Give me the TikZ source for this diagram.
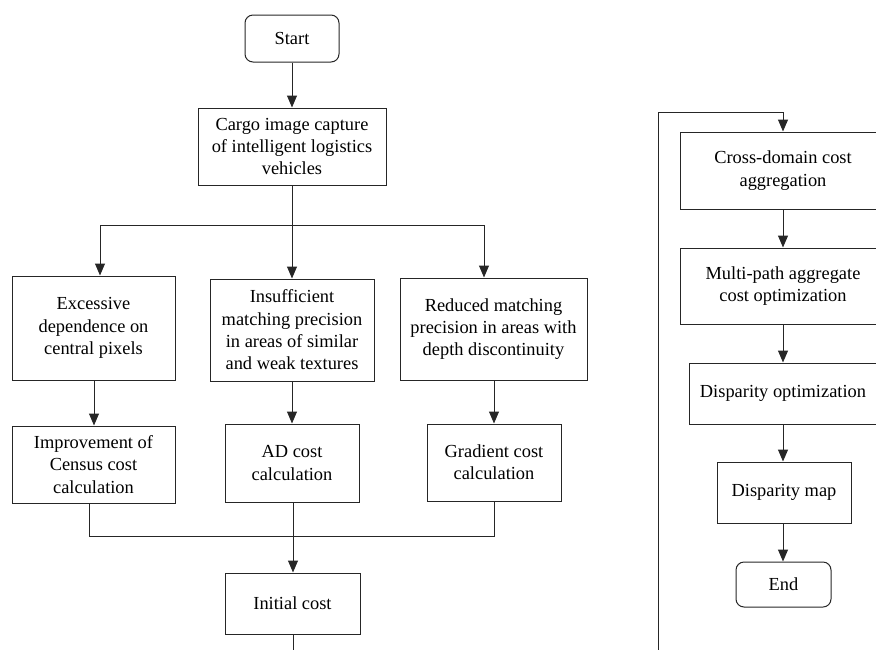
\documentclass[tikz,border=0pt]{standalone}
\usepackage{fontspec}
\setmainfont{Liberation Serif}
\usetikzlibrary{arrows.meta}
\begin{document}
\begin{tikzpicture}[x=1pt,y=-1pt,
  box/.style={draw=black!85,line width=1pt,rectangle,align=center,inner sep=0pt,
    font=\fontsize{18.4}{22.3}\selectfont},
  term/.style={box,rounded corners=8pt},
  arr/.style={draw=black!85,line width=1pt,-{Triangle[length=12pt,width=10pt]}},
  ln/.style={draw=black!85,line width=1pt}]
\useasboundingbox (0,0) rectangle (876,649);
\begin{scope}
\clip (0,0) rectangle (876,649);
\node[term,minimum width=94pt,minimum height=47pt] (start) at (292,38.5) {Start};
\node[box,minimum width=188pt,minimum height=77pt] (cargo) at (292,146.5) {Cargo image capture\\of intelligent logistics\\vehicles};
\node[box,minimum width=163pt,minimum height=104pt] (ex) at (93.5,328) {Excessive\\dependence on\\central pixels};
\node[box,minimum width=164pt,minimum height=102pt] (ins) at (292,330) {Insufficient\\matching precision\\in areas of similar\\and weak textures};
\node[box,minimum width=187pt,minimum height=102pt] (red) at (493.5,329) {Reduced matching\\precision in areas with\\depth discontinuity};
\node[box,minimum width=163pt,minimum height=77pt] (imp) at (93.5,464.5) {Improvement of\\Census cost\\calculation};
\node[box,minimum width=134pt,minimum height=78pt] (ad) at (292,463) {AD cost\\calculation};
\node[box,minimum width=134pt,minimum height=77pt] (grad) at (494,462.5) {Gradient cost\\calculation};
\node[box,minimum width=135pt,minimum height=61pt] (init) at (292.5,603.5) {Initial cost};
\node[box,minimum width=206pt,minimum height=77pt] (cross) at (783,170.5) {Cross-domain cost\\aggregation};
\node[box,minimum width=206pt,minimum height=76pt] (multi) at (783,286) {Multi-path aggregate\\cost optimization};
\node[box,minimum width=188pt,minimum height=61pt] (dopt) at (783,393.5) {Disparity optimization};
\node[box,minimum width=134pt,minimum height=61pt] (dmap) at (784,492.5) {Disparity map};
\node[term,minimum width=95pt,minimum height=45pt] (end) at (783.5,584.5) {End};

\coordinate (bsplit) at (292,225);
\coordinate (bl) at (100,225);
\coordinate (br) at (484,225);
\coordinate (ml) at (89,536);
\coordinate (mr) at (494,536);
\coordinate (bottomL) at (293,652);
\coordinate (loopB) at (658,652);
\coordinate (loopT) at (658,112);
\coordinate (loopR) at (783,112);

\draw[arr] (start) -- (cargo);
\draw[ln] (cargo.south) -- (bsplit);
\draw[ln] (bl) -- (br);
\draw[arr] (bl) -- (bl |- ex.north);
\draw[arr] (bsplit) -- (ins.north);
\draw[arr] (br) -- (br |- red.north);
\draw[arr] (ex.south -| 94,0) -- (imp.north -| 94,0);
\draw[arr] (ins) -- (ad);
\draw[arr] (red.south -| grad.north) -- (grad.north);
\draw[ln] (imp.south -| ml) -- (ml) -- (mr) -- (grad.south -| mr);
\draw[arr] (ad.south -| 293,0) -- (init.north -| 293,0);
\draw[ln] (init.south -| bottomL) -- (bottomL);
\draw[arr] (loopB) -- (loopT) -- (loopR) -- (cross.north);
\draw[arr] (cross) -- (multi);
\draw[arr] (multi) -- (dopt);
\draw[arr] (dopt.south -| 783,0) -- (dmap.north -| 783,0);
\draw[arr] (dmap.south -| 783,0) -- (end.north -| 783,0);
\end{scope}
\end{tikzpicture}
\end{document}
